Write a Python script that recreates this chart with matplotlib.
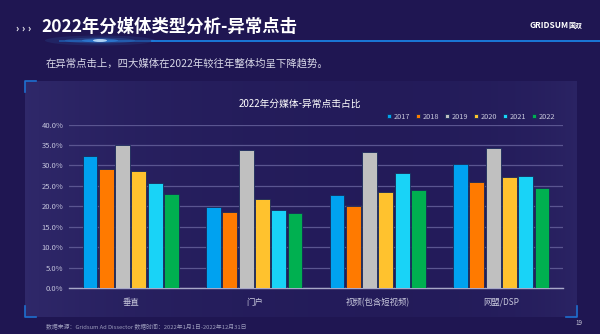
import numpy as np
import matplotlib
matplotlib.use("Agg")
import matplotlib.pyplot as plt
from matplotlib.patches import Ellipse

plt.rcParams['font.family'] = ['Noto Sans CJK SC', 'DejaVu Sans']

# 数据
categories = ['垂直', '门户', '视频(包含短视频)', '网盟/DSP']
years = ['2017', '2018', '2019', '2020', '2021', '2022']
v2017 = [32.4, 19.7, 22.8, 30.3]
v2018 = [29.1, 18.6, 20.0, 26.0]
v2019 = [35.1, 33.7, 33.2, 34.3]
v2020 = [28.6, 21.7, 23.4, 27.1]
v2021 = [25.7, 19.2, 28.1, 27.3]
v2022 = [22.9, 18.4, 24.0, 24.5]
series = [v2017, v2018, v2019, v2020, v2021, v2022]
colors = ['#00a2f0', '#ff7a00', '#c0c0c0', '#ffc22e', '#19d3f7', '#00b050']
yticks = [0, 5, 10, 15, 20, 25, 30, 35, 40]

W, H = 600, 334
bg = '#1f1652'

fig = plt.figure(figsize=(W / 100, H / 100), dpi=100, facecolor=bg)

# 背景装饰层（像素坐标）
deco = fig.add_axes([0, 0, 1, 1])
deco.set_xlim(0, W)
deco.set_ylim(H, 0)
deco.axis('off')

# 面板渐变
grad = np.linspace(0, 1, 256)
shade = 0.55 * np.exp(-grad / 0.25) + 0.35 * np.exp(-(1 - grad) / 0.12)
panel = np.zeros((2, 256, 3))
base = np.array([0x22, 0x1a, 0x58]) / 255
light = np.array([0x3a, 0x34, 0x78]) / 255
for i, s in enumerate(shade):
    panel[:, i, :] = base + (light - base) * min(s, 1)
deco.imshow(panel, extent=[25, 577, 317, 81], aspect='auto', zorder=0)

# 角标
bc = '#1e6fd0'
deco.plot([25, 25, 36], [92, 81, 81], color=bc, lw=1.2)
deco.plot([25, 25, 36], [306, 317, 317], color=bc, lw=1.2)
deco.plot([577, 577, 566], [306, 317, 317], color=bc, lw=1.2)

# 标题
for x in [17, 23, 29]:
    deco.text(x, 28.5, '›', color='white', fontsize=7, ha='center', va='center', fontweight='bold')
deco.text(41, 27, '2022年分媒体类型分析-异常点击', color='white', fontsize=12.5,
          fontweight='bold', ha='left', va='center')
deco.plot([60, 600], [40.5, 40.5], color='#1a78d8', lw=1.4, zorder=2)
deco.plot([60, 150], [40.5, 40.5], color=bg, lw=1.6, alpha=0.5, zorder=2)
for w, h, a in [(110, 10, 0.10), (70, 6, 0.18), (36, 4, 0.35), (14, 3, 0.8)]:
    deco.add_patch(Ellipse((100, 40.5), w, h, color='#3aa0ff' if a < 0.8 else '#cfe9ff',
                           alpha=a, lw=0, zorder=3))
deco.text(529, 25, 'GRIDSUM', color='white', fontsize=6, fontweight='bold',
          fontstyle='italic', ha='left', va='center')
deco.text(568, 25, '国双', color='white', fontsize=5, fontweight='bold', ha='left', va='center')

deco.text(46, 63, '在异常点击上，四大媒体在2022年较往年整体均呈下降趋势。', color='#d8d8e8',
          fontsize=7.5, ha='left', va='center')

deco.text(46, 327, '数据来源：Gridsum Ad Dissector 数据时间：2022年1月1日-2022年12月31日',
          color='#9c9cbc', fontsize=4.2, ha='left', va='center')
deco.text(579, 323, '19', color='#c8c8d8', fontsize=4.5, ha='center', va='center')

# 图表标题
deco.text(300, 104, '2022年分媒体-异常点击占比', color='white', fontsize=7,
          ha='center', va='center')

# 柱状图
ax = fig.add_axes([69 / W, 46 / H, 494 / W, 163.5 / H])
ax.set_facecolor('none')
x = np.arange(len(categories))
slot = 0.132
bw = 0.121
for i, (vals, c, yr) in enumerate(zip(series, colors, years)):
    ax.bar(x + (i - 2.5) * slot, vals, width=bw, color=c, edgecolor='#1a2a5a',
           linewidth=0.6, label=yr, zorder=3)

ax.set_xlim(-0.5, 3.5)
ax.set_ylim(0, 40)
ax.set_yticks(yticks)
ax.set_yticklabels([f'{v:.1f}%' for v in yticks], color='#c4c4dc', fontsize=5.5)
ax.set_xticks(x)
ax.set_xticklabels(categories, color='#c8c8dc', fontsize=6)
ax.tick_params(axis='both', length=0, pad=4)
ax.tick_params(axis='x', pad=7)
ax.grid(axis='y', color='#5a5590', lw=0.9, zorder=0)
for s in ['top', 'right', 'left']:
    ax.spines[s].set_visible(False)
ax.spines['bottom'].set_color('#a8a8c8')
ax.spines['bottom'].set_linewidth(1)

leg = ax.legend(loc='lower right', bbox_to_anchor=(0.99, 1.005), ncol=6, frameon=False,
                fontsize=5.3, handlelength=0.6, handleheight=0.6, handletextpad=0.3,
                columnspacing=0.8, borderaxespad=0)
for t in leg.get_texts():
    t.set_color('#c8c8dc')

fig.savefig('out.png', dpi=100, facecolor=bg)
